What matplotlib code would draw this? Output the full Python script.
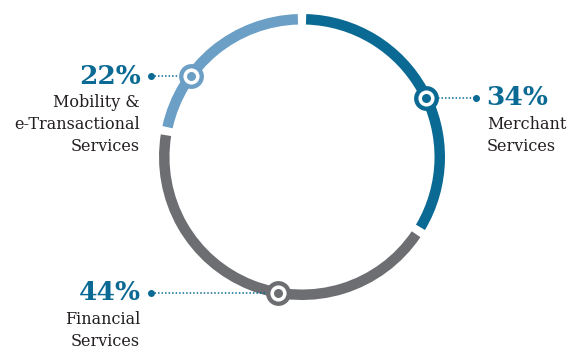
import numpy as np
import matplotlib.pyplot as plt
from matplotlib.patches import Wedge

# data
labels = ['Merchant\nServices', 'Financial\nServices', 'Mobility &\ne-Transactional\nServices']
shares = [34, 44, 22]
pct_text = ['34%', '44%', '22%']
colors = ['#0b6a93', '#6d6e71', '#6b9fc5']
marker_pos = [0.527, 0.427, 0.318]   # fraction along each segment where the marker sits
side = ['right', 'left', 'left']

blue = '#0b6a93'
cx, cy, r, w = 302, 195, 143, 10.5
gap = 3.4
pfont = ['DejaVu Serif Condensed', 'DejaVu Serif']

fig = plt.figure(figsize=(5.69, 3.52), dpi=100)
ax = fig.add_axes([0, 0, 1, 1])

# ring segments, clockwise from top
start = 0.0
for i, v in enumerate(shares):
    a0 = start
    a1 = start + v / sum(shares) * 360
    ax.add_patch(Wedge((cx, cy), r, 90 - a1 + gap / 2, 90 - a0 - gap / 2,
                       width=w, facecolor=colors[i], edgecolor='none'))

    # marker on the ring
    am = np.deg2rad(a0 + marker_pos[i] * (a1 - a0))
    rm = r - w / 2
    mx, my = cx + rm * np.sin(am), cy + rm * np.cos(am)

    # leader line + labels
    if side[i] == 'right':
        dx = 476
        ax.plot([mx + 12, dx], [my, my], ls=(0, (1, 1.3)), lw=1.1, c=blue, zorder=2)
        ax.plot(dx, my, 'o', ms=4, c=blue, zorder=3)
        ax.text(486, my, pct_text[i], ha='left', va='center', fontsize=19,
                fontweight='heavy', color=blue, family=pfont)
        ax.text(487, my - 18, labels[i], ha='left', va='top', fontsize=11.5,
                color='#231f20', family='DejaVu Serif', linespacing=1.38)
    else:
        dx = 151
        ax.plot([dx, mx - 12], [my, my], ls=(0, (1, 1.3)), lw=1.1, c=blue, zorder=2)
        ax.plot(dx, my, 'o', ms=4, c=blue, zorder=3)
        ax.text(141, my, pct_text[i], ha='right', va='center', fontsize=19,
                fontweight='heavy', color=blue, family=pfont)
        ax.text(140, my - 18, labels[i], ha='right', va='top', fontsize=11.5,
                color='#231f20', family='DejaVu Serif', linespacing=1.38,
                multialignment='right')

    ax.scatter(mx, my, s=320, c=colors[i], zorder=4, linewidths=0)
    ax.scatter(mx, my, s=135, c='white', zorder=5, linewidths=0)
    ax.scatter(mx, my, s=42, c=colors[i], zorder=6, linewidths=0)
    start = a1

ax.set_xlim(0, 569)
ax.set_ylim(0, 352)
ax.set_aspect('equal')
ax.axis('off')

fig.savefig('out.png', dpi=100)
